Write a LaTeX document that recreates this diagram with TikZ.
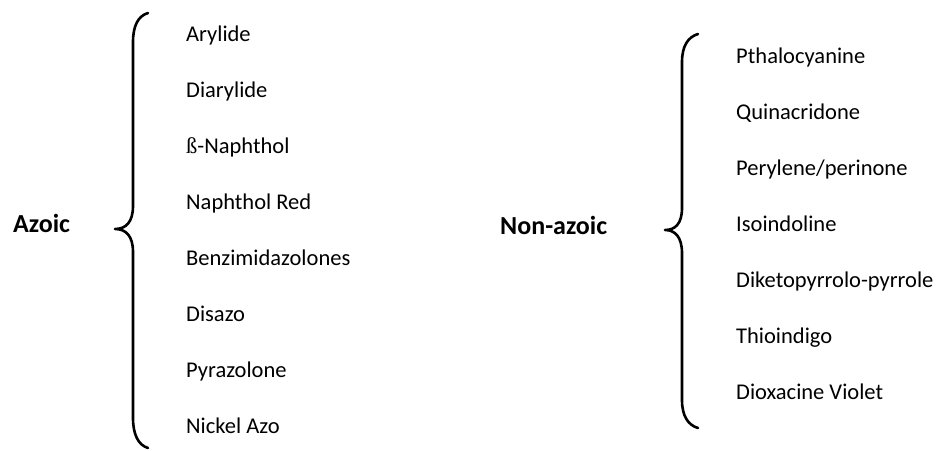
\documentclass[tikz,border=0pt]{standalone}
\usepackage{fontspec}
\setmainfont{Carlito}
\newfontfamily\eszettfont{Liberation Serif}
\begin{document}
\begin{tikzpicture}[x=1pt,y=-1pt,
  item/.style={anchor=base west,inner sep=0pt,font=\fontsize{22.5}{27}\selectfont},
  head/.style={anchor=base west,inner sep=0pt,font=\fontsize{26}{31}\selectfont\bfseries},
  bracestroke/.style={line width=2.6pt,line cap=round,line join=round}]
\useasboundingbox (0,0) rectangle (940,450);
% left group
\node[head] (azoic) at (13,232) {Azoic};
\draw[bracestroke] (148,13) .. controls (138,16) and (133,26) .. (133,42)
  -- (133,206) .. controls (133,222) and (126,229) .. (115,229)
  .. controls (126,229) and (133,236) .. (133,252)
  -- (133,418) .. controls (133,434) and (138,445) .. (148,448);
\node[item] (a1) at (186,41) {Arylide};
\node[item] (a2) at (186,97) {Diarylide};
\node[item] (a3) at (186,153) {{\eszettfont ß}-Naphthol};
\node[item] (a4) at (186,209) {Naphthol Red};
\node[item] (a5) at (186,265) {Benzimidazolones};
\node[item] (a6) at (186,321) {Disazo};
\node[item] (a7) at (186,377) {Pyrazolone};
\node[item] (a8) at (186,433) {Nickel Azo};
% right group
\node[head] (nonazoic) at (500,234) {Non-azoic};
\draw[bracestroke] (698,34) .. controls (688,37) and (682,46) .. (682,62)
  -- (682,208) .. controls (682,224) and (675,230) .. (665,230)
  .. controls (675,230) and (682,237) .. (682,253)
  -- (682,400) .. controls (682,416) and (688,425) .. (698,428);
\node[item] (b1) at (736,63) {Pthalocyanine};
\node[item] (b2) at (736,119) {Quinacridone};
\node[item] (b3) at (736,175) {Perylene/perinone};
\node[item] (b4) at (736,231) {Isoindoline};
\node[item] (b5) at (736,287) {Diketopyrrolo-pyrrole};
\node[item] (b6) at (736,343) {Thioindigo};
\node[item] (b7) at (736,399) {Dioxacine Violet};
\end{tikzpicture}
\end{document}
